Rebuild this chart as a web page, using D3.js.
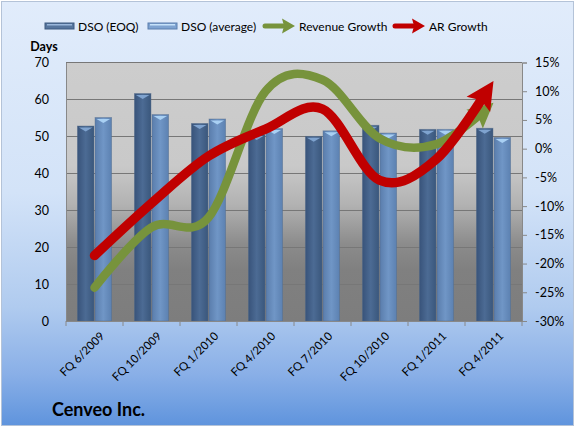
<!DOCTYPE html>
<html><head><meta charset="utf-8">
<script src="https://cdn.jsdelivr.net/npm/d3@7"></script>
<style>body{margin:0;background:#fff}svg{display:block;font-family:Lato,"Open Sans",sans-serif}</style>
</head><body><svg id="c" width="575" height="427"></svg>
<script>
const categories = ["FQ 6/2009","FQ 10/2009","FQ 1/2010","FQ 4/2010","FQ 7/2010","FQ 10/2010","FQ 1/2011","FQ 4/2011"];
const dsoEOQ = [52.8, 61.6, 53.5, 50.5, 50.0, 53.0, 51.9, 52.2];
const dsoAvg = [55.1, 55.9, 54.7, 52.1, 51.5, 50.9, 51.9, 49.7];
const revenueGrowth = [-24.2, -13.7, -12.0, 10.0, 12.0, 1.8, 0.8, 8.0];
const arGrowth = [-18.6, -9.5, -1.3, 3.4, 6.9, -5.5, -1.8, 11.8];
const leftTicks = [0,10,20,30,40,50,60,70];
const rightTicks = [-30,-25,-20,-15,-10,-5,0,5,10,15];
const seriesNames = ["DSO (EOQ)","DSO (average)","Revenue Growth","AR Growth"];

const svg = d3.select("#c");
const defs = svg.append("defs");
function lg(id, stops, vertical){
  const g = defs.append("linearGradient").attr("id", id)
    .attr("x1",0).attr("y1",0).attr("x2", vertical?0:1).attr("y2", vertical?1:0);
  stops.forEach(s=>g.append("stop").attr("offset",s[0]).attr("stop-color",s[1]));
}
lg("bg", [[0,"#e1ecfb"],[0.45,"#d3e3f8"],[0.72,"#b0cbef"],[0.88,"#89afe7"],[1,"#5f94dd"]], true);
lg("plot", [[0,"#cdcdcd"],[0.4,"#c9c9c9"],[0.55,"#b2b2b2"],[0.7,"#8c8c8c"],[0.8,"#808080"],[1,"#7d7d7d"]], true);
lg("dark", [[0,"#38537a"],[0.5,"#4c6b94"],[1,"#3a577c"]], false);
lg("light", [[0,"#5a7dac"],[0.5,"#7096c6"],[1,"#5c81b1"]], false);

// chart background
svg.append("rect").attr("x",1.5).attr("y",1.5).attr("width",572).attr("height",424)
  .attr("fill","url(#bg)").attr("stroke","#b4c3d8");

const L=66, R=522, T=62.5, B=321;
const x0 = d3.scaleBand().domain(categories).range([L,R]);
const bw = x0.bandwidth();
const x1 = d3.scaleBand().domain(["eoq","avg"]).range([bw*0.2, bw*0.8]).paddingInner(0.06);
const yL = d3.scaleLinear().domain([0,70]).range([B,T]);
const yR = d3.scaleLinear().domain([-30,15]).range([B,T]);

svg.append("rect").attr("x",L).attr("y",T).attr("width",R-L).attr("height",B-T).attr("fill","url(#plot)");

// gridlines
svg.append("g").selectAll("line").data(leftTicks).join("line")
  .attr("x1",L).attr("x2",R).attr("y1",d=>yL(d)).attr("y2",d=>yL(d))
  .attr("stroke","#777").attr("stroke-width",1).attr("shape-rendering","crispEdges");

// bars
const bars = svg.append("g");
categories.forEach((c,i)=>{
  [["eoq",dsoEOQ[i],"url(#dark)","#7fa3cf"],["avg",dsoAvg[i],"url(#light)","#a9d0f3"]].forEach(([k,v,f,cap])=>{
    const x = x0(c)+x1(k), w = x1.bandwidth(), y = yL(v);
    bars.append("rect").attr("x",x).attr("y",y).attr("width",w).attr("height",B-y)
      .attr("fill",f).attr("stroke","#52698a").attr("stroke-opacity",0.5).attr("stroke-width",0.8);
    bars.append("path").attr("d",`M${x+1.5},${y+1.5}L${x+w-1.5},${y+1.5}L${x+w/2},${y+5.5}Z`).attr("fill",cap);
  });
});

// axes
const axL = svg.append("g").attr("transform",`translate(${L},0)`)
  .call(d3.axisLeft(yL).tickValues(leftTicks).tickSize(0).tickPadding(17));
axL.select(".domain").attr("stroke","#888");
axL.selectAll("text").attr("font-size",12.5).attr("fill","#000").attr("font-family","Lato,sans-serif");
const axR = svg.append("g").attr("transform",`translate(${R},0)`)
  .call(d3.axisRight(yR).tickValues(rightTicks).tickSize(5).tickPadding(8).tickFormat(d=>d+"%"));
axR.select(".domain").attr("stroke","#888");
axR.selectAll("line").attr("stroke","#888");
axR.selectAll("text").attr("font-size",12.5).attr("fill","#000").attr("font-family","Lato,sans-serif");
const axB = svg.append("g").attr("transform",`translate(0,${B})`)
  .call(d3.axisBottom(x0).tickSize(0).tickFormat(""));
axB.select(".domain").attr("stroke","#888");
const tickPos = categories.map(c=>x0(c)).concat([R]);
svg.append("g").selectAll("line").data(tickPos).join("line")
  .attr("x1",d=>d).attr("x2",d=>d).attr("y1",B).attr("y2",B+5).attr("stroke","#888");
svg.append("g").selectAll("text").data(categories).join("text")
  .attr("transform",c=>`translate(${x0(c)+bw/2+5},${B+10}) rotate(-45)`)
  .attr("text-anchor","end").attr("dy","0.7em").attr("font-size",11.5).attr("fill","#000").text(d=>d);

svg.append("text").attr("x",44).attr("y",51).attr("text-anchor","middle")
  .attr("font-weight","bold").attr("font-size",12.5).text("Days");

// lines with arrows
const line = d3.line().x((d,i)=>x0(categories[i])+bw/2).y(d=>yR(d)).curve(d3.curveCardinal.tension(0));
function arrowLine(data, color, width, headLen, headHalf){
  const p = svg.append("path").attr("d", line(data)).attr("fill","none")
    .attr("stroke",color).attr("stroke-width",width).attr("stroke-linecap","round");
  const n = p.node(), Lt = n.getTotalLength();
  const tip = n.getPointAtLength(Lt), back = n.getPointAtLength(Lt-headLen);
  p.attr("stroke-dasharray", `${Lt-headLen*0.7} ${Lt}`);
  const dx = tip.x-back.x, dy = tip.y-back.y, m = Math.hypot(dx,dy), ux=dx/m, uy=dy/m;
  const bx = tip.x-ux*headLen, by = tip.y-uy*headLen;
  const nx = bx+ux*headLen*0.18, ny = by+uy*headLen*0.18;
  svg.append("path").attr("d",`M${tip.x},${tip.y}L${bx-uy*headHalf},${by+ux*headHalf}L${nx},${ny}L${bx+uy*headHalf},${by-ux*headHalf}Z`)
    .attr("fill",color);
}
arrowLine(revenueGrowth, "#77933c", 8.5, 25, 12.5);
arrowLine(arGrowth, "#c00000", 9.5, 28, 14);

// legend
const lgd = svg.append("g").attr("font-size",12).attr("fill","#000");
const lx = [45,148,265,395];
function swatch(i){
  const x = lx[i];
  if(i<2){
    lgd.append("rect").attr("x",x).attr("y",23).attr("width",29).attr("height",6)
      .attr("fill", i===0?"#56759d":"#7ea3d1").attr("stroke", i===0?"#3c5a80":"#5b7fae");
    lgd.append("rect").attr("x",x+2).attr("y",24).attr("width",25).attr("height",1.5)
      .attr("fill", i===0?"#9ab7db":"#c5e2fa");
  } else {
    const col = i===2?"#77933c":"#c00000";
    lgd.append("line").attr("x1",x).attr("x2",x+18).attr("y1",26).attr("y2",26)
      .attr("stroke",col).attr("stroke-width",5).attr("stroke-linecap","round");
    lgd.append("path").attr("d",`M${x+30},26L${x+17},18.5L${x+19},26L${x+17},33.5Z`).attr("fill",col);
  }
  lgd.append("text").attr("x", x+(i<2?33:34)).attr("y",30.5).text(seriesNames[i]);
}
[0,1,2,3].forEach(swatch);

svg.append("text").attr("x",52).attr("y",415.5).attr("font-weight","bold").attr("font-size",18)
  .attr("font-family","Lato,sans-serif").text("Cenveo Inc.");
</script></body></html>
